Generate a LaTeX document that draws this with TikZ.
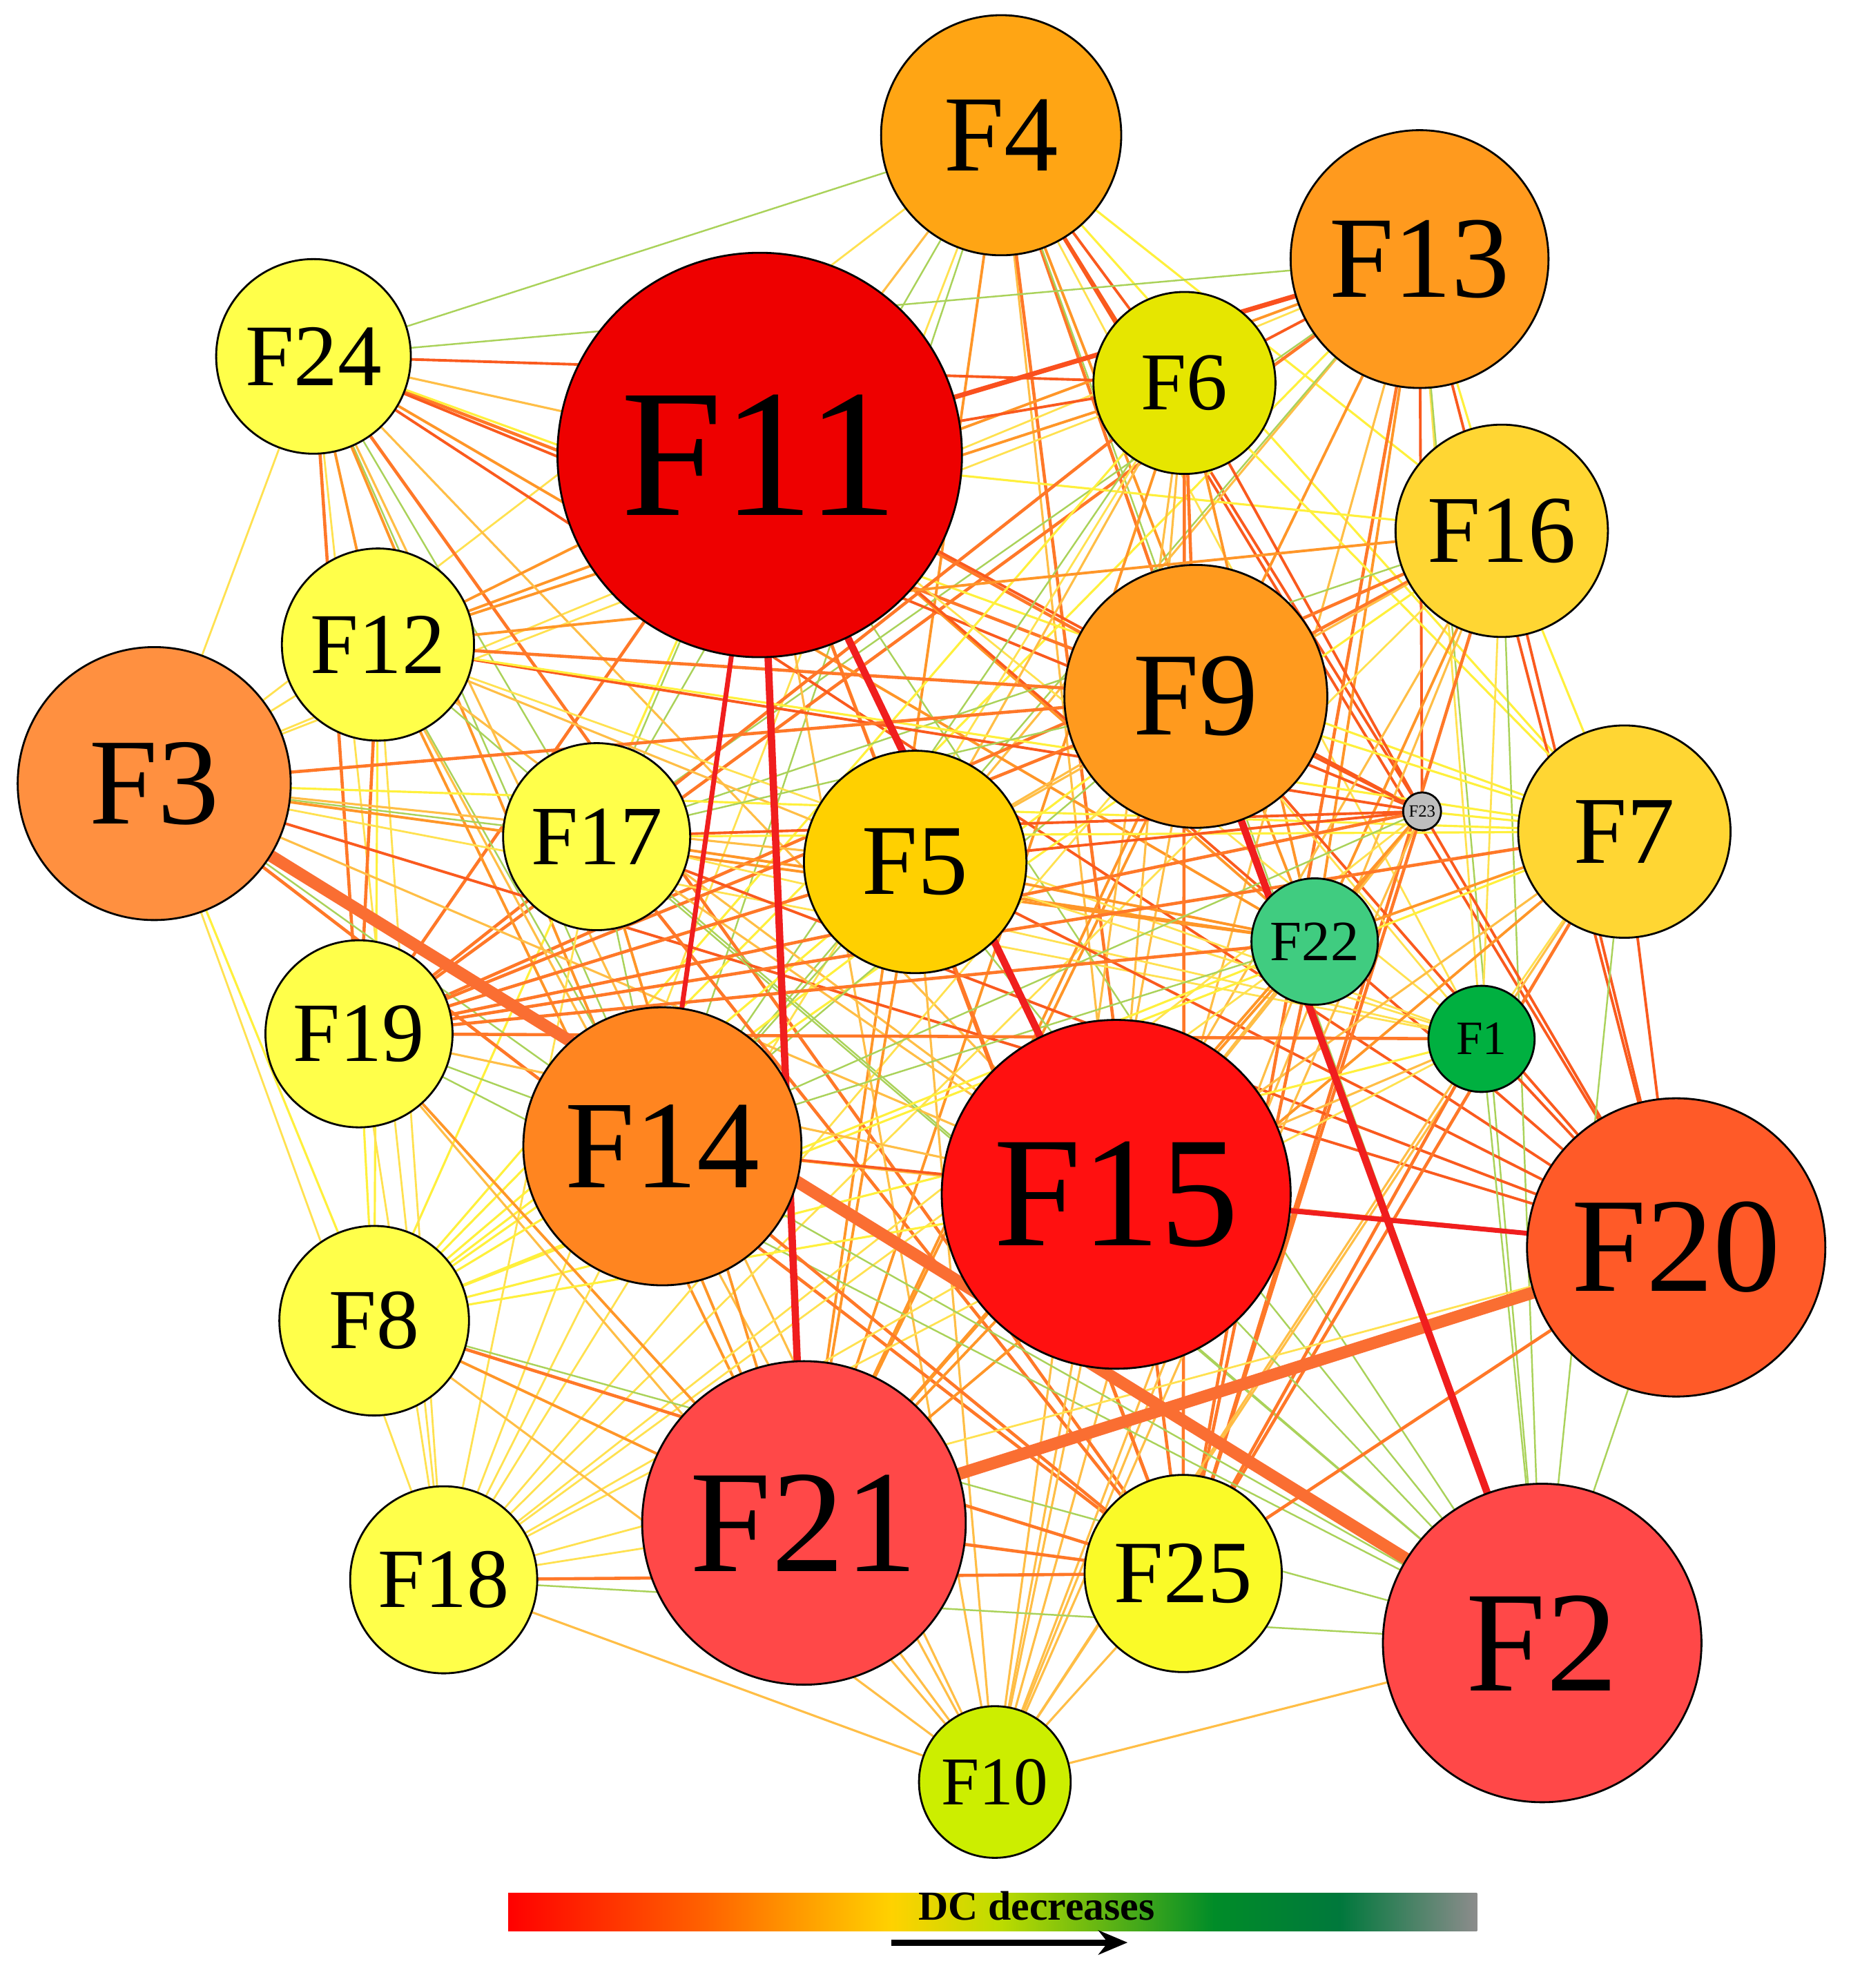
\documentclass[tikz,border=0pt]{standalone}
\usepackage{fontspec}
\setmainfont{Liberation Serif}
\usetikzlibrary{arrows.meta}
\begin{document}
\begin{tikzpicture}[x=0.018306cm,y=-0.018306cm,
  nd/.style={circle,draw=black,line width=0.8pt,inner sep=0pt},
  ed0/.style={draw={rgb,255:red,255;green,150;blue,40},line width=1.1pt},
  ed1/.style={draw={rgb,255:red,255;green,240;blue,60},line width=0.9pt},
  ed2/.style={draw={rgb,255:red,250;green,90;blue,30},line width=1.1pt},
  ed3/.style={draw={rgb,255:red,255;green,190;blue,70},line width=0.9pt},
  ed4/.style={draw={rgb,255:red,170;green,210;blue,90},line width=0.7pt},
  ed5/.style={draw={rgb,255:red,255;green,120;blue,40},line width=1.3pt},
  ed6/.style={draw={rgb,255:red,255;green,225;blue,80},line width=0.8pt},
  thick red/.style={draw={rgb,255:red,240;green,30;blue,30},line width=3pt},
  thick or/.style={draw={rgb,255:red,250;green,110;blue,50},line width=5pt}]
\useasboundingbox (0,0) rectangle (1464,1573);
\fill[white] (0,0) rectangle (1464,1573);
% coordinates
\foreach \n/\x/\y in {F4/792/107,F13/1123/205,F24/248/282,F11/601/360,F6/937/303,F16/1188/420,F12/299/510,F3/122/620,F9/946/551,F17/472/662,F5/724/682,F23/1125/642,F7/1285/658,F22/1040/745,F1/1172/822,F19/284/818,F14/524/907,F15/883/945,F20/1326/987,F8/296/1045,F21/636/1205,F18/351/1250,F25/936/1245,F2/1220/1300,F10/787/1410}
  \coordinate (\n) at (\x,\y);
% edges
\foreach \a [count=\i] in {F4,F13,F24,F11,F6,F16,F12,F3,F9,F17,F5,F23,F7,F22,F1,F19,F14,F15,F20,F8,F21,F18,F25,F2,F10}{
  \foreach \b [count=\j] in {F4,F13,F24,F11,F6,F16,F12,F3,F9,F17,F5,F23,F7,F22,F1,F19,F14,F15,F20,F8,F21,F18,F25,F2,F10}{
    \ifnum\j>\i
      \pgfmathtruncatemacro\k{mod(\i*7+\j*13,7)}
      \pgfmathtruncatemacro\s{mod(\i*5+\j*11,9)}
      \ifnum\s>1 \draw[ed\k] (\a) -- (\b); \fi
    \fi}}
\draw[thick or] (F3) -- (F2);
\draw[thick or] (F21) -- (F20);
\draw[thick red] (F11) -- (F21);
\draw[thick red] (F11) -- (F15);
\draw[thick red] (F9) -- (F2);
\draw[draw={rgb,255:red,240;green,30;blue,30},line width=2pt] (F14) -- (F11);
\draw[draw={rgb,255:red,240;green,30;blue,30},line width=2pt] (F15) -- (F20);
\draw[draw={rgb,255:red,250;green,80;blue,30},line width=2pt] (F11) -- (F13);
% nodes
\foreach \n/\r/\cr/\cg/\cb in {F4/95/255/165/20,F13/102/255/154/30,F24/77/255/255/74,F11/160/238/0/0,F6/72/230/230/0,F16/84/255/214/51,F12/76/255/255/74,F3/108/255/144/64,F9/104/255/154/30,F17/74/255/255/74,F5/88/255/208/0,F23/15/190/190/190,F7/84/255/214/51,F22/50/64/204/128,F1/42/0/176/64,F19/74/255/255/74,F14/110/255/133/32,F15/138/255/16/16,F20/118/255/90/40,F8/75/255/255/74,F21/128/255/72/72,F18/74/255/255/74,F25/78/250/250/40,F2/126/255/72/72,F10/60/204/238/0}{
  \pgfmathsetmacro\fs{0.47*\r}
  \node[nd,fill={rgb,255:red,\cr;green,\cg;blue,\cb},minimum size=2*\r*0.018306cm,
    font=\fontsize{\fs pt}{\fs pt}\selectfont] (n\n) at (\n) {\n};}
% colour bar
\foreach \xa/\xb/\ca/\cc in {402/560/red/{rgb,255:red,255;green,100;blue,0},560/705/{rgb,255:red,255;green,100;blue,0}/{rgb,255:red,255;green,210;blue,0},705/790/{rgb,255:red,255;green,210;blue,0}/{rgb,255:red,190;green,220;blue,0},790/960/{rgb,255:red,190;green,220;blue,0}/{rgb,255:red,0;green,140;blue,40},960/1060/{rgb,255:red,0;green,140;blue,40}/{rgb,255:red,0;green,120;blue,60},1060/1168/{rgb,255:red,0;green,120;blue,60}/{rgb,255:red,140;green,140;blue,140}}
  \shade[left color=\ca,right color=\cc] (\xa,1498) rectangle (\xb+0.5,1528);
\node[font=\bfseries\fontsize{17pt}{17pt}\selectfont] (lbl) at (820,1508) {DC decreases};
\coordinate (aS) at (705,1537);
\coordinate (aE) at (892,1537);
\draw[line width=2.5pt,-{Stealth[length=12pt,width=10pt]}] (aS) -- (aE);
\end{tikzpicture}
\end{document}
